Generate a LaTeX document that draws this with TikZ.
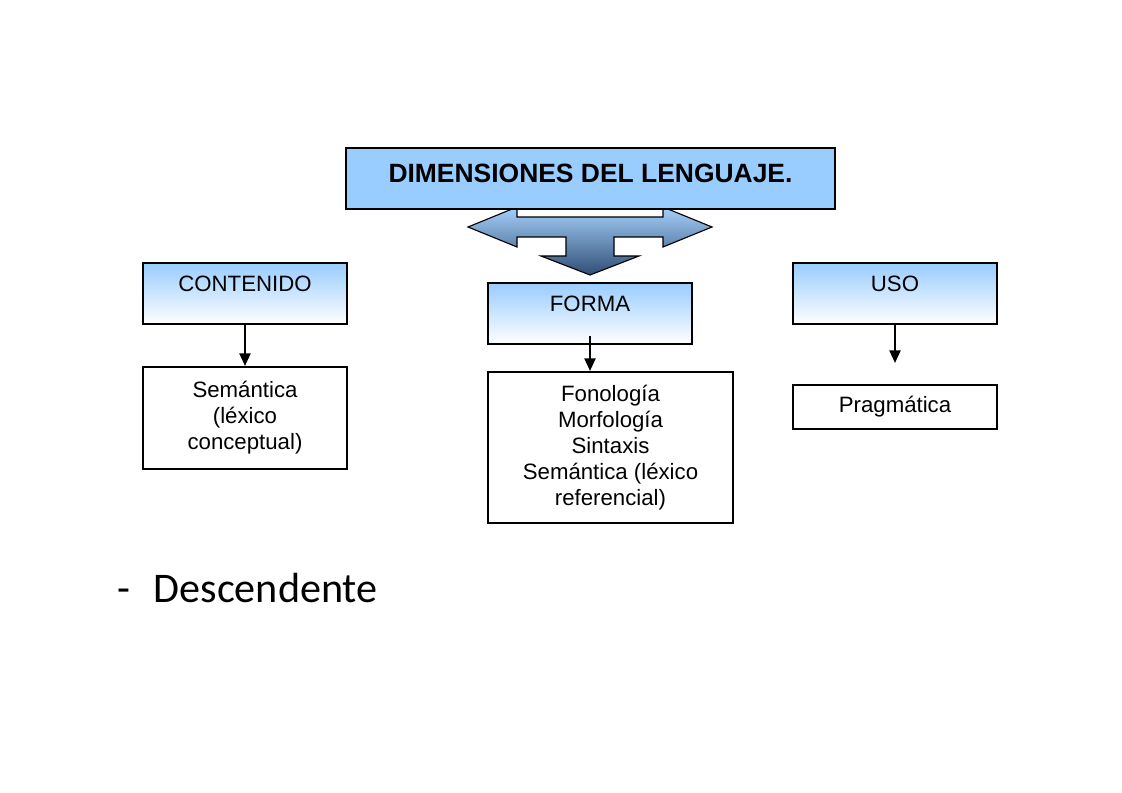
\documentclass[tikz,border=0pt]{standalone}
\usepackage{fontspec}
\setmainfont{Liberation Sans}
\newfontfamily\carlito{Carlito}
\usepackage{xcolor}
\definecolor{celeste}{RGB}{153,204,255}
\definecolor{flechasup}{RGB}{165,208,250}
\definecolor{flechainf}{RGB}{48,78,118}
\usetikzlibrary{positioning,arrows.meta}
\tikzset{
  titulo/.style={rectangle, draw=black, line width=1.3pt, fill=celeste, minimum width=12.225cm, minimum height=1.525cm, inner sep=0pt, text height=0.875cm, text depth=0.65cm, font=\fontsize{18.8}{22}\selectfont\bfseries},
  dimen/.style={rectangle, draw=black, line width=1.3pt, top color=celeste, bottom color=white, minimum width=5.1cm, minimum height=1.525cm, inner sep=0pt, text height=0.725cm, text depth=0.8cm, font=\fontsize{15.8}{18.5}\selectfont},
  rama/.style={rectangle, draw=black, line width=1.3pt, fill=white, minimum width=5.1cm, align=center, inner sep=0pt, font=\fontsize{15.8}{18.5}\selectfont},
  line/.style={draw, line width=1.2pt, -{Triangle[width=8pt,length=9pt]}}
}
\begin{document}
\begin{tikzpicture}[x=0.025cm,y=-0.025cm]
    \useasboundingbox (0,0) rectangle (1122,793);

    \shadedraw[top color=flechasup, bottom color=flechainf, draw=black, line width=0.8pt]
      (517,217) -- (663,217) -- (663,207) -- (712,227) -- (663,247) -- (663,237) -- (614,237) -- (614,256) -- (639,256)
      -- (590,275) -- (541,256) -- (566,256) -- (566,237) -- (517,237) -- (517,247) -- (468,227) -- (517,207) -- cycle;
    \node[titulo] (dim) at (590.5,178.5) {DIMENSIONES DEL LENGUAJE.};

    \node[dimen] (cont) at (245,293.5) {CONTENIDO};
    \node[dimen] (forma) at (590,313.5) {FORMA};
    \node[dimen] (uso) at (895,293.5) {USO};

    \node[rama, minimum height=2.55cm, below=1.025cm of cont] (sem) {Semántica\\(léxico\\conceptual)};
    \node[rama, minimum width=6.125cm, minimum height=3.775cm, below=0.65cm of forma.south west, anchor=north west] (fon) {Fonología\\Morfología\\Sintaxis\\Semántica (léxico\\referencial)};
    \node[rama, minimum height=1.1cm, below=1.475cm of uso] (prag) {Pragmática};

    \node[anchor=base west, inner sep=0pt, font=\carlito\fontsize{30}{36}\selectfont] (desc) at (117,602) {-\hspace{0.585cm}Descendente};

    \begin{scope}[every path/.style=line]
      \path (cont) -- (sem);
      \path ([yshift=0.225cm]forma.south) -- (forma.south |- fon.north);
      \path (uso) -- ([yshift=0.525cm]prag.north);
    \end{scope}
\end{tikzpicture}
\end{document}
